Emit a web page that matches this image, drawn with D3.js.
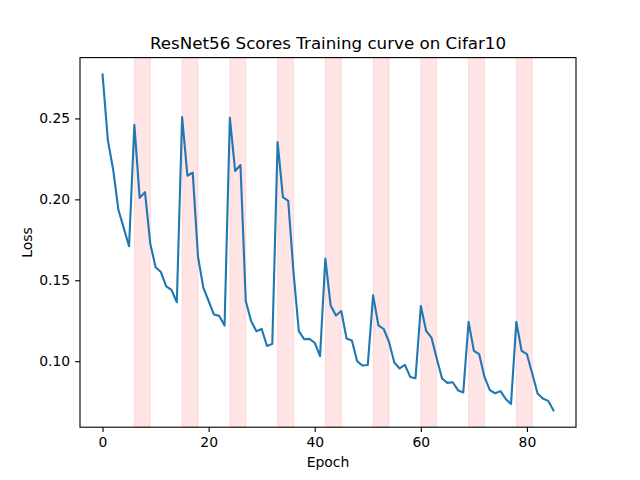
<!DOCTYPE html>
<html>
<head>
<meta charset="utf-8">
<script src="https://cdn.jsdelivr.net/npm/d3@7"></script>
<style>
  body { margin: 0; background: #fff; }
  text { font-family: "DejaVu Sans", sans-serif; fill: #000; }
</style>
</head>
<body>
<svg id="svg" width="640" height="480"></svg>
<script>
// loss per epoch
const epochs = d3.range(0, 86);
const loss = [
  0.2772, 0.2366, 0.2183, 0.1934, 0.1822, 0.1710, 0.2460, 0.2009, 0.2044, 0.1726,
  0.1581, 0.1551, 0.1463, 0.1441, 0.1364, 0.2508, 0.2146, 0.2165, 0.1644, 0.1455,
  0.1372, 0.1288, 0.1280, 0.1220, 0.2504, 0.2175, 0.2212, 0.1372, 0.1249, 0.1185,
  0.1199, 0.1094, 0.1107, 0.2354, 0.2014, 0.1990, 0.1550, 0.1186, 0.1136, 0.1138,
  0.1114, 0.1031, 0.1634, 0.1344, 0.1282, 0.1310, 0.1140, 0.1128, 0.1000, 0.0973,
  0.0977, 0.1407, 0.1222, 0.1199, 0.1119, 0.0992, 0.0955, 0.0977, 0.0903, 0.0895,
  0.1341, 0.1187, 0.1146, 0.1017, 0.0893, 0.0866, 0.0870, 0.0821, 0.0807, 0.1243,
  0.1064, 0.1043, 0.0903, 0.0821, 0.0802, 0.0815, 0.0767, 0.0736, 0.1243, 0.1064,
  0.1043, 0.0924, 0.0800, 0.0770, 0.0755, 0.0696
];
// shaded epoch spans
const bandStarts = [6, 15, 24, 33, 42, 51, 60, 69, 78];
const bandEnds   = [9, 18, 27, 36, 45, 54, 63, 72, 81];
const xTicks = [0, 20, 40, 60, 80];
const yTicks = [0.10, 0.15, 0.20, 0.25];

const width = 640, height = 480;
const margin = { left: 80, right: 64, top: 57.6, bottom: 52.8 };
const innerW = width - margin.left - margin.right;
const innerH = height - margin.top - margin.bottom;

const svg = d3.select('#svg');
const g = svg.append('g')
  .attr('transform', `translate(${margin.left},${margin.top})`);

// matplotlib style 5% margins
const xExt = d3.extent(epochs), yExt = d3.extent(loss);
const xPad = (xExt[1] - xExt[0]) * 0.05, yPad = (yExt[1] - yExt[0]) * 0.05;

const x = d3.scaleLinear().domain([xExt[0] - xPad, xExt[1] + xPad]).range([0, innerW]);
const y = d3.scaleLinear().domain([yExt[0] - yPad, yExt[1] + yPad]).range([innerH, 0]);

g.selectAll('.band')
  .data(bandStarts.map((s, i) => [s, bandEnds[i]]))
  .join('rect')
  .attr('class', 'band')
  .attr('x', d => x(d[0]))
  .attr('y', 0)
  .attr('width', d => x(d[1]) - x(d[0]))
  .attr('height', innerH)
  .style('fill', 'red')
  .style('fill-opacity', 0.1)
  .style('stroke', 'red')
  .style('stroke-opacity', 0.1)
  .style('stroke-width', 1);

const line = d3.line()
  .x((d, i) => x(epochs[i]))
  .y(d => y(d));

g.append('path')
  .datum(loss)
  .attr('d', line)
  .style('fill', 'none')
  .style('stroke', '#1f77b4')
  .style('stroke-width', 2.1)
  .style('stroke-linejoin', 'round')
  .style('stroke-linecap', 'square');

const xAxis = d3.axisBottom(x).tickValues(xTicks).tickSize(4.9).tickPadding(4.9).tickFormat(d3.format('d'));
const yAxis = d3.axisLeft(y).tickValues(yTicks).tickSize(4.9).tickPadding(4.9).tickFormat(d3.format('.2f'));

const xAxisG = g.append('g')
  .attr('transform', `translate(0,${innerH})`)
  .call(xAxis);
const yAxisG = g.append('g').call(yAxis);

[xAxisG, yAxisG].forEach(a => {
  a.select('path.domain').remove();
  a.selectAll('line').style('stroke', '#000').style('stroke-width', 1.1);
  a.selectAll('text')
    .style('font-family', '"DejaVu Sans", sans-serif')
    .style('font-size', '13.9px')
    .style('fill', '#000');
});

// frame
g.append('rect')
  .attr('width', innerW)
  .attr('height', innerH)
  .style('fill', 'none')
  .style('stroke', '#000')
  .style('stroke-width', 1.1);

svg.append('text')
  .attr('x', margin.left + innerW / 2)
  .attr('y', margin.top - 9)
  .attr('text-anchor', 'middle')
  .style('font-size', '16.7px')
  .text('ResNet56 Scores Training curve on Cifar10');

svg.append('text')
  .attr('x', margin.left + innerW / 2)
  .attr('y', 467)
  .attr('text-anchor', 'middle')
  .style('font-size', '13.9px')
  .text('Epoch');

svg.append('text')
  .attr('transform', `translate(32,${margin.top + innerH / 2}) rotate(-90)`)
  .attr('text-anchor', 'middle')
  .style('font-size', '13.9px')
  .text('Loss');
</script>
</body>
</html>
